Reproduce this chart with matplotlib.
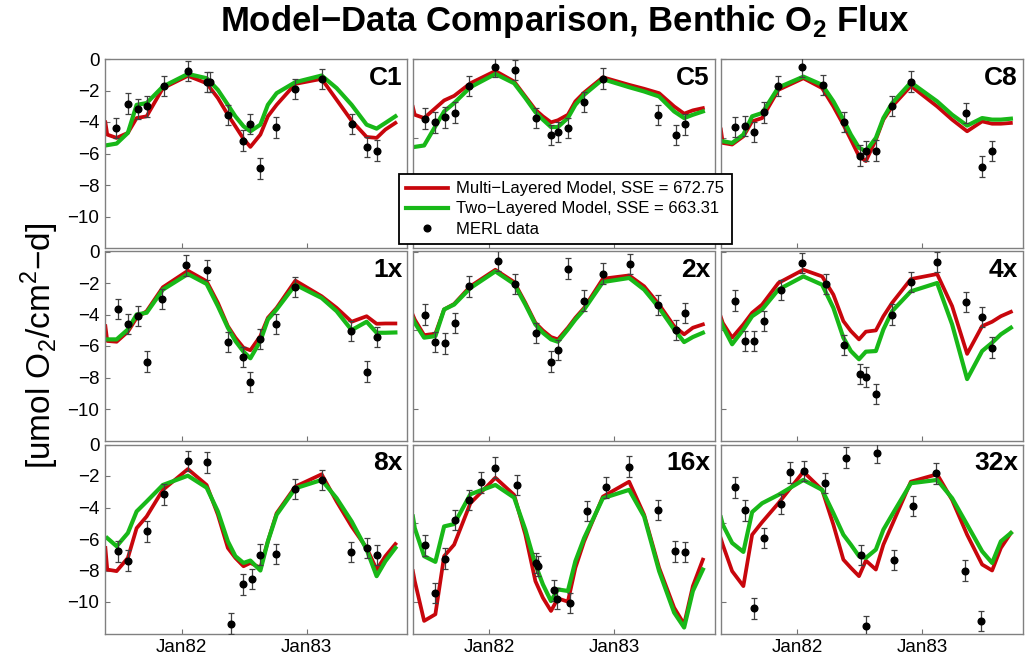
import numpy as np
import matplotlib
matplotlib.use('Agg')
import matplotlib.pyplot as plt

plt.rcParams['font.family'] = ['Liberation Sans', 'DejaVu Sans']
plt.rcParams['mathtext.fontset'] = 'custom'
plt.rcParams['mathtext.rm'] = 'Liberation Sans'
plt.rcParams['mathtext.bf'] = 'Liberation Sans:bold'

JAN82 = 1982.0
RED = '#c8060c'
GREEN = '#18b818'
nan = np.nan

# model output times, years after Jan 1982
t_model = [-0.61, -0.595, -0.52, -0.43, -0.36, -0.28, -0.15, 0.05, 0.2, 0.29, 0.37, 0.43,
           0.495, 0.55, 0.63, 0.69, 0.76, 0.91, 1.12, 1.24, 1.36, 1.48, 1.56, 1.63, 1.71]

# multi-layered (red) and two-layered (green) model flux per station
multi_C1 = [-4.02, -4.80, -5.01, -4.69, -3.75, -3.64, -1.85, -1.07, -1.54, -2.48, -3.54, -4.27, -5.07,
            -5.58, -4.8, -3.64, -2.91, -1.58, -1.26, -2.59, -3.92, -4.95, -5.01, -4.48, -4.06]
two_C1 = [nan, -5.47, -5.37, -4.69, -2.91, -2.8, -1.75, -0.95, -1.22, -1.96, -2.91, -3.64, -4.27,
          -4.59, -4.17, -2.91, -2.17, -1.47, -1.05, -1.85, -2.91, -4.17, -4.42, -4.06, -3.64]
multi_C5 = [-3.05, -3.54, -3.75, -3.12, -2.63, -2.34, -1.54, -0.76, -1.43, -2.38, -3.22, -3.64, -4.02,
            -3.89, -3.54, -2.69, -2.13, -1.16, -1.64, -1.89, -2.17, -3.01, -3.47, -3.26, -3.12]
two_C5 = [nan, -5.58, -5.49, -4.27, -3.33, -2.8, -1.79, -0.95, -1.54, -2.48, -3.37, -3.85, -4.32,
          -4.32, -3.75, -2.91, -2.27, -1.28, -1.79, -2.06, -2.38, -3.33, -3.75, -3.54, -3.33]
multi_C8 = [-4.48, -5.33, -5.43, -4.91, -3.96, -3.75, -1.96, -1.22, -1.85, -3.01, -4.17, -5.12, -6.17,
            -6.48, -5.12, -3.85, -3.01, -1.71, -3.01, -3.85, -4.59, -3.96, -4.11, -4.11, -4.06]
two_C8 = [nan, -5.22, -5.33, -4.8, -3.64, -3.43, -1.81, -1.12, -1.64, -2.69, -3.85, -4.8, -5.64,
          -5.85, -5.01, -3.75, -2.8, -1.49, -2.69, -3.54, -4.23, -3.75, -3.85, -3.85, -3.79]
multi_1x = [-4.74, -5.68, -5.73, -5.09, -4.21, -3.79, -2.27, -1.22, -1.89, -3.26, -4.74, -5.47, -6.11,
            -6.27, -5.37, -4.21, -3.58, -1.85, -2.84, -3.58, -4.46, -4.11, -4.59, -4.57, -4.57]
two_1x = [nan, -5.58, -5.58, -4.95, -4.0, -3.89, -2.42, -1.43, -2.06, -3.47, -4.84, -5.68, -6.36,
          -6.78, -5.68, -4.32, -3.68, -2.11, -2.95, -3.79, -4.99, -4.46, -5.16, -5.16, -5.14]
multi_2x = [-4.04, -4.32, -5.31, -5.22, -3.68, -3.33, -2.21, -1.16, -1.94, -3.26, -4.53, -5.01, -5.43,
            -5.58, -4.84, -4.21, -3.58, -1.73, -1.52, -2.21, -3.37, -4.74, -5.26, -4.84, -4.63]
two_2x = [-4.25, -4.53, -5.47, -5.37, -3.68, -3.37, -2.32, -1.26, -2.06, -3.37, -4.63, -5.16, -5.58,
          -5.73, -4.95, -4.32, -3.68, -1.94, -1.68, -2.42, -3.58, -4.95, -5.75, -5.43, -5.16]
multi_4x = [-4.17, -4.53, -5.47, -4.63, -3.89, -3.37, -2.0, -1.16, -1.58, -2.74, -4.42, -5.05, -5.58,
            -5.09, -5.01, -4.11, -3.26, -1.75, -1.43, -3.47, -6.5, -4.74, -4.46, -4.11, -3.83]
two_4x = [-4.42, -4.74, -5.89, -4.95, -4.11, -3.68, -2.42, -1.58, -2.11, -3.58, -5.47, -6.32, -6.84,
          -6.36, -6.32, -4.95, -3.79, -2.53, -2.0, -4.63, -8.1, -6.32, -5.79, -5.26, -4.84]
multi_8x = [-6.57, -7.94, -8.04, -7.2, -5.31, -4.57, -2.88, -1.56, -2.57, -4.46, -6.57, -7.2, -7.73,
            -7.52, -7.83, -6.15, -4.36, -2.67, -1.89, -3.62, -5.2, -6.57, -7.94, -7.09, -6.32]
two_8x = [nan, -5.94, -6.46, -5.62, -4.25, -3.62, -2.57, -1.98, -2.74, -4.25, -6.15, -7.09, -7.52,
          -7.37, -8.0, -6.15, -4.46, -2.78, -2.25, -3.41, -4.88, -6.67, -8.36, -7.41, -6.57]
multi_16x = [-8.04, -8.67, -11.2, -10.78, -7.09, -6.36, -3.73, -2.11, -3.2, -5.73, -8.67, -9.73, -10.57,
             -9.77, -9.98, -7.83, -6.15, -3.31, -2.36, -4.46, -7.83, -10.36, -11.41, -8.99, -7.31]
two_16x = [-4.57, -5.31, -7.09, -7.45, -5.2, -5.05, -3.16, -2.57, -3.37, -5.41, -7.62, -8.88, -9.94,
           -9.2, -9.3, -7.41, -5.94, -3.41, -2.88, -4.57, -8.04, -10.67, -11.62, -9.3, -7.94]
multi_32x = [-5.98, -6.36, -8.04, -8.99, -5.73, -4.93, -3.73, -1.73, -2.88, -5.09, -7.31, -7.83, -8.36,
             -7.37, -7.94, -6.36, -5.09, -2.36, -1.89, -3.52, -5.73, -7.62, -8.0, -6.57, -5.62]
two_32x = [-4.63, -5.09, -6.25, -6.82, -4.29, -3.73, -3.2, -2.25, -2.88, -4.36, -5.73, -6.36, -7.09,
           -7.2, -6.67, -5.41, -4.46, -2.46, -2.25, -3.41, -5.09, -6.78, -7.52, -6.15, -5.62]

# MERL measurements: sample times (years after Jan 1982) and fluxes
t_C1 = [-0.525, -0.427, -0.352, -0.275, -0.139, 0.048, 0.2, 0.227, 0.373, 0.493, 0.549, 0.627,
        0.757, 0.909, 1.12, 1.363, 1.48, 1.56]
obs_C1 = [-4.38, -2.84, -3.18, -3.01, -1.71, -0.76, -1.47, -1.47, -3.56, -5.18, -4.13, -6.95,
          -4.34, -1.89, -1.28, -4.13, -5.58, -5.81]
t_C5 = [-0.511, -0.43, -0.355, -0.277, -0.161, 0.051, 0.204, 0.376, 0.497, 0.551, 0.629, 0.758,
        0.914, 1.355, 1.492, 1.57]
obs_C5 = [-3.79, -4.02, -3.71, -3.41, -1.71, -0.48, -0.69, -3.75, -4.84, -4.63, -4.38, -2.74,
          -1.24, -3.54, -4.84, -4.15]
t_C8 = [-0.496, -0.419, -0.342, -0.265, -0.151, 0.04, 0.207, 0.379, 0.499, 0.552, 0.629, 0.759,
        0.915, 1.353, 1.48, 1.557]
obs_C8 = [-4.32, -4.27, -4.65, -3.39, -1.71, -0.48, -1.66, -4.0, -6.13, -5.85, -5.81, -2.97,
          -1.43, -3.43, -6.84, -5.85]
t_1x = [-0.507, -0.427, -0.352, -0.275, -0.157, 0.032, 0.2, 0.373, 0.493, 0.549, 0.627, 0.757,
        0.909, 1.352, 1.48, 1.56]
obs_1x = [-3.64, -4.59, -4.11, -6.99, -3.01, -0.88, -1.16, -5.73, -6.69, -8.27, -5.54, -4.59,
          -2.27, -5.05, -7.62, -5.43]
t_2x = [-0.511, -0.43, -0.355, -0.277, -0.161, 0.067, 0.204, 0.376, 0.497, 0.551, 0.629, 0.758,
        0.914, 1.126, 1.355, 1.492, 1.57]
obs_2x = [-4.0, -5.75, -5.83, -4.53, -2.21, -0.59, -2.06, -5.16, -6.99, -6.27, -1.09, -3.12,
          -1.41, -0.8, -3.41, -4.99, -3.89]
t_4x = [-0.496, -0.419, -0.342, -0.265, -0.133, 0.04, 0.231, 0.379, 0.499, 0.552, 0.629, 0.759,
        0.915, 1.122, 1.353, 1.48, 1.557]
obs_4x = [-3.12, -5.68, -5.68, -4.42, -2.46, -0.74, -2.06, -5.94, -7.79, -7.96, -9.05, -4.0,
          -1.94, -0.67, -3.2, -4.17, -6.11]
t_8x = [-0.507, -0.427, -0.275, -0.139, 0.053, 0.2, 0.395, 0.493, 0.565, 0.627, 0.757, 0.909,
        1.12, 1.352, 1.48, 1.56]
obs_8x = [-6.78, -7.37, -5.52, -3.16, -1.05, -1.14, -11.37, -8.88, -8.53, -6.99, -6.95, -2.82,
          -2.25, -6.84, -6.57, -7.03]
t_16x = [-0.511, -0.43, -0.355, -0.277, -0.161, -0.067, 0.051, 0.22, 0.376, 0.39, 0.516, 0.546,
         0.645, 0.78, 0.933, 1.12, 1.352, 1.489, 1.565]
obs_16x = [-6.4, -9.43, -7.24, -4.78, -3.54, -2.4, -1.47, -2.57, -7.52, -7.73, -9.26, -9.79,
           -10.08, -4.21, -2.72, -1.41, -4.15, -6.78, -6.82]
t_32x = [-0.496, -0.419, -0.342, -0.265, -0.133, -0.056, 0.053, 0.225, 0.393, 0.509, 0.549, 0.642,
         0.777, 0.926, 1.111, 1.34, 1.472]
obs_32x = [-2.72, -4.19, -10.4, -5.94, -3.77, -1.77, -1.68, -2.46, -0.84, -7.03, -11.52, -0.51,
           -7.33, -3.89, -1.83, -8.0, -11.2]
obs_err = 0.65

panels = [
    ('C1', t_C1, obs_C1, multi_C1, two_C1),
    ('C5', t_C5, obs_C5, multi_C5, two_C5),
    ('C8', t_C8, obs_C8, multi_C8, two_C8),
    ('1x', t_1x, obs_1x, multi_1x, two_1x),
    ('2x', t_2x, obs_2x, multi_2x, two_2x),
    ('4x', t_4x, obs_4x, multi_4x, two_4x),
    ('8x', t_8x, obs_8x, multi_8x, two_8x),
    ('16x', t_16x, obs_16x, multi_16x, two_16x),
    ('32x', t_32x, obs_32x, multi_32x, two_32x),
]

W, H = 1029, 660
fig = plt.figure(figsize=(W / 100, H / 100), dpi=100)

col_left = [105, 412.5, 720.5]
row_top = [59, 251.5, 444.5]
ax_w, ax_h = 302, 189

tm = JAN82 + np.array(t_model)
for k, (name, t_obs, obs, multi, two) in enumerate(panels):
    r, c = divmod(k, 3)
    ax = fig.add_axes([col_left[c] / W, 1 - (row_top[r] + ax_h) / H, ax_w / W, ax_h / H])
    l1, = ax.plot(tm, multi, color=RED, lw=2.7, solid_joinstyle='round')
    l2, = ax.plot(tm, two, color=GREEN, lw=3.0, solid_joinstyle='round')
    eb = ax.errorbar(JAN82 + np.array(t_obs), obs, yerr=obs_err, fmt='o', color='k',
                     ms=4.8, ecolor='0.25', elinewidth=0.9, capsize=2.2, capthick=0.9, zorder=5)
    ax.set_xlim(JAN82 - 0.613, JAN82 + 1.803)
    ax.set_ylim(-12, 0)
    ax.set_xticks([JAN82, JAN82 + 1])
    if r == 2:
        ax.set_xticklabels(['Jan82', 'Jan83'])
    else:
        ax.set_xticklabels([])
    if c == 0:
        ax.set_yticks([0, -2, -4, -6, -8, -10])
    else:
        ax.set_yticks([0, -5, -10])
        ax.set_yticklabels([])
    ax.tick_params(direction='in', length=3.5, width=0.8, color='0.45', labelsize=13.5, pad=4)
    for sp in ax.spines.values():
        sp.set_color('0.5')
        sp.set_linewidth(1.0)
    ax.text(0.985, 0.965, name, transform=ax.transAxes, ha='right', va='top',
            fontsize=19, fontweight='bold')

fig.legend([l1, l2, eb.lines[0]],
           ['Multi\u2212Layered Model, SSE = 672.75',
            'Two\u2212Layered Model, SSE = 663.31',
            'MERL data'],
           loc='center', bbox_to_anchor=(565 / W, 1 - 209 / H), fontsize=12,
           handlelength=2.5, labelspacing=0.3, borderpad=0.45, handletextpad=0.5,
           fancybox=False, framealpha=1, edgecolor='k', numpoints=1)
fig.legends[0].get_frame().set_linewidth(1.3)

fig.text(565 / W, 1 - 22 / H, 'Model\u2212Data Comparison, Benthic O$_\\mathbf{2}$ Flux',
         ha='center', va='center', fontsize=25, fontweight='bold')
fig.text(40 / W, 1 - 346 / H, '[umol O$_2$/cm$^2$\u2212d]', rotation=90,
         ha='center', va='center', fontsize=24)

fig.savefig('out.png', dpi=100)
